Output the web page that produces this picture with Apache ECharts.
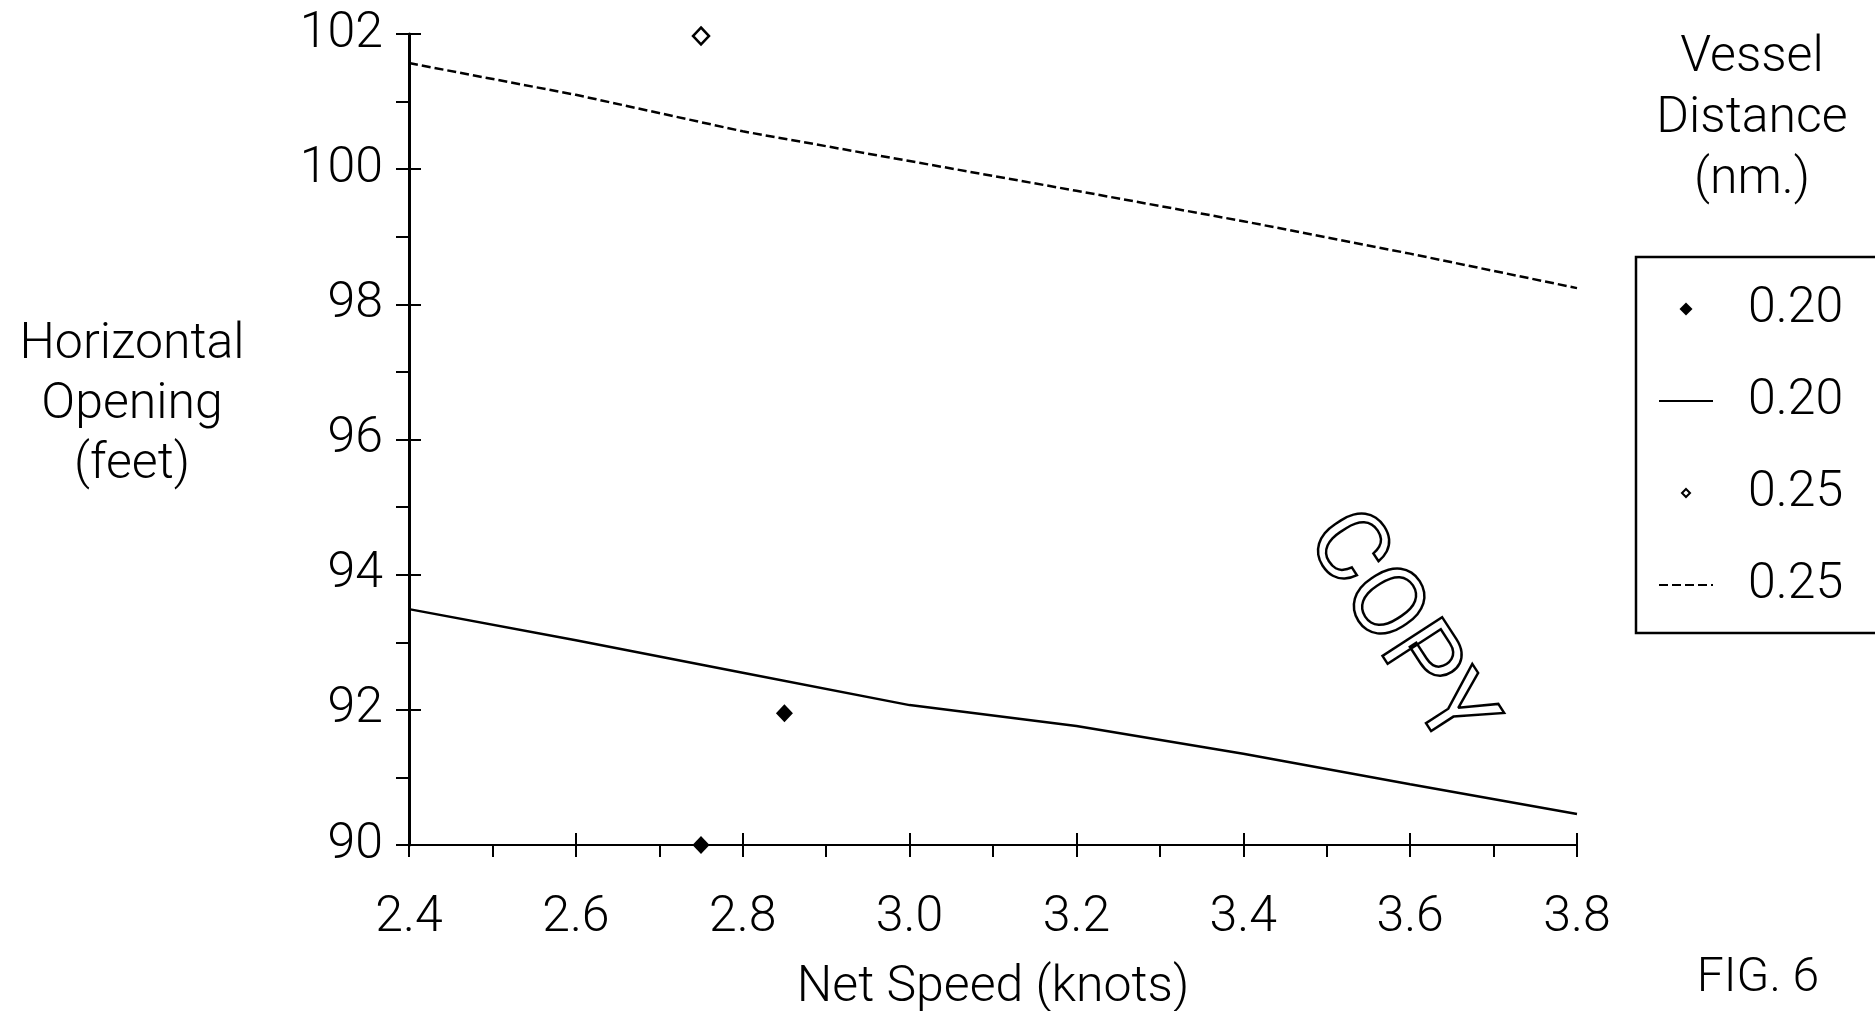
<!DOCTYPE html>
<html>
<head>
<meta charset="utf-8">
<script src="https://cdn.jsdelivr.net/npm/echarts@6/dist/echarts.min.js"></script>
<style>
html,body{margin:0;padding:0;background:#fff;}
#chart{width:1875px;height:1011px;}
</style>
</head>
<body>
<div id="chart"></div>
<script>
// ---- data ----
var speedTicks = [2.4, 2.6, 2.8, 3.0, 3.2, 3.4, 3.6, 3.8];
var line020 = [93.49, 93.03, 92.55, 92.07, 91.76, 91.35, 90.90, 90.46];
var line025 = [101.57, 101.10, 100.56, 100.12, 99.68, 99.23, 98.75, 98.24];
var points020 = [[2.75, 90.0], [2.85, 91.95]];
var points025 = [[2.75, 101.97]];
var seriesNames = ['pts-0.20', 'line-0.20', 'pts-0.25', 'line-0.25'];
var legendLabels = ['0.20', '0.20', '0.25', '0.25'];
var xTitle = 'Net Speed (knots)';
var yTitle = 'Horizontal\nOpening\n(feet)';
var legendTitle = 'Vessel\nDistance\n(nm.)';
var figLabel = 'FIG. 6';

var FONT = 'Roboto';
var labelMap = {};
seriesNames.forEach(function (n, i) { labelMap[n] = legendLabels[i]; });

function zip(xs, ys) { return xs.map(function (x, i) { return [x, ys[i]]; }); }

var chart = echarts.init(document.getElementById('chart'), null, {renderer: 'canvas'});

var baseX = {
  type: 'value', min: 2.4, max: 3.8, interval: 0.2,
  splitLine: {show: false}
};
var baseY = {
  type: 'value', min: 90, max: 102, interval: 2,
  splitLine: {show: false}
};

var option = {
  backgroundColor: '#fff',
  animation: false,
  grid: {left: 409, right: 298, top: 34, bottom: 166, containLabel: false, outerBoundsMode: 'none'},
  xAxis: [
    Object.assign({}, baseX, {
      position: 'bottom',
      axisLine: {show: true, onZero: false, lineStyle: {color: '#000', width: 2}},
      axisTick: {show: true, inside: false, length: 12, lineStyle: {color: '#000', width: 2}},
      minorTick: {show: true, splitNumber: 2, length: 12, lineStyle: {color: '#000', width: 2}},
      axisLabel: {
        show: true, margin: 48, color: '#000', fontFamily: FONT, fontWeight: 300, fontSize: 50,
        formatter: function (v) { return v.toFixed(1); }
      },
      name: xTitle, nameLocation: 'middle', nameGap: 118,
      nameTextStyle: {color: '#000', fontFamily: FONT, fontWeight: 300, fontSize: 50}
    }),
    Object.assign({}, baseX, {
      position: 'bottom',
      axisLine: {show: false, onZero: false},
      axisTick: {show: true, inside: true, length: 12, lineStyle: {color: '#000', width: 2}},
      minorTick: {show: false},
      axisLabel: {show: false}
    })
  ],
  yAxis: [
    Object.assign({}, baseY, {
      position: 'left',
      axisLine: {show: true, onZero: false, lineStyle: {color: '#000', width: 3}},
      axisTick: {show: true, inside: false, length: 13, lineStyle: {color: '#000', width: 2}},
      minorTick: {show: true, splitNumber: 2, length: 13, lineStyle: {color: '#000', width: 2}},
      axisLabel: {
        show: true, margin: 26, color: '#000', fontFamily: FONT, fontWeight: 300, fontSize: 50
      }
    }),
    Object.assign({}, baseY, {
      position: 'left',
      axisLine: {show: false, onZero: false},
      axisTick: {show: true, inside: true, length: 12, lineStyle: {color: '#000', width: 2}},
      minorTick: {show: false},
      axisLabel: {show: false}
    })
  ],
  legend: {
    orient: 'vertical', left: 1636, top: 257,
    itemWidth: 54, itemHeight: 14, itemGap: 42,
    padding: [27, 40, 23, 22],
    borderColor: '#000', borderWidth: 2.5, borderRadius: 0,
    backgroundColor: '#fff',
    selectedMode: false,
    textStyle: {color: '#000', fontFamily: FONT, fontWeight: 300, fontSize: 50, lineHeight: 50, padding: [0, 0, 0, 30]},
    formatter: function (name) { return labelMap[name]; },
    data: [
      {name: seriesNames[0], icon: 'path://M0 0M14 14M7 0.5L13.5 7L7 13.5L0.5 7Z'},
      {name: seriesNames[1], itemStyle: {opacity: 0}},
      {name: seriesNames[2], icon: 'path://M0 0M14 14M7 3L11 7L7 11L3 7Z'},
      {name: seriesNames[3], itemStyle: {opacity: 0}}
    ]
  },
  series: [
    {
      name: seriesNames[0], type: 'scatter', data: points020,
      symbol: 'diamond', symbolSize: [17, 18],
      itemStyle: {color: '#000', opacity: 1}, z: 5
    },
    {
      name: seriesNames[1], type: 'line', data: zip(speedTicks, line020),
      symbol: 'none', smooth: false,
      lineStyle: {color: '#000', width: 2.5, type: 'solid'},
      itemStyle: {color: '#000'}
    },
    {
      name: seriesNames[2], type: 'scatter', data: points025,
      symbol: 'diamond', symbolSize: [16, 17],
      itemStyle: {color: '#fff', borderColor: '#000', borderWidth: 2.5, opacity: 1}, z: 5
    },
    {
      name: seriesNames[3], type: 'line', data: zip(speedTicks, line025),
      symbol: 'none', smooth: false,
      lineStyle: {color: '#000', width: 2.5, type: [9, 4]},
      itemStyle: {color: '#000'}
    }
  ],
  graphic: [
    {
      type: 'text', x: 132, y: 315, silent: true,
      style: {
        text: yTitle, fill: '#000', font: '300 50px ' + FONT, lineHeight: 60,
        align: 'center', verticalAlign: 'top'
      }
    },
    {
      type: 'text', x: 1752, y: 28, silent: true,
      style: {
        text: legendTitle, fill: '#000', font: '300 50px ' + FONT, lineHeight: 61,
        align: 'center', verticalAlign: 'top'
      }
    },
    {
      type: 'text', x: 1758, y: 979, silent: true,
      style: {
        text: figLabel, fill: '#000', font: '300 48px ' + FONT,
        align: 'center', verticalAlign: 'middle'
      }
    },
    {
      type: 'text', x: 1396, y: 631, rotation: -57 * Math.PI / 180, silent: true,
      style: {
        text: 'COPY', fill: 'rgba(255,255,255,0)', stroke: '#000', lineWidth: 2.5,
        font: '400 100px ' + FONT, align: 'center', verticalAlign: 'middle'
      }
    }
  ]
};
chart.setOption(option);
</script>
</body>
</html>
